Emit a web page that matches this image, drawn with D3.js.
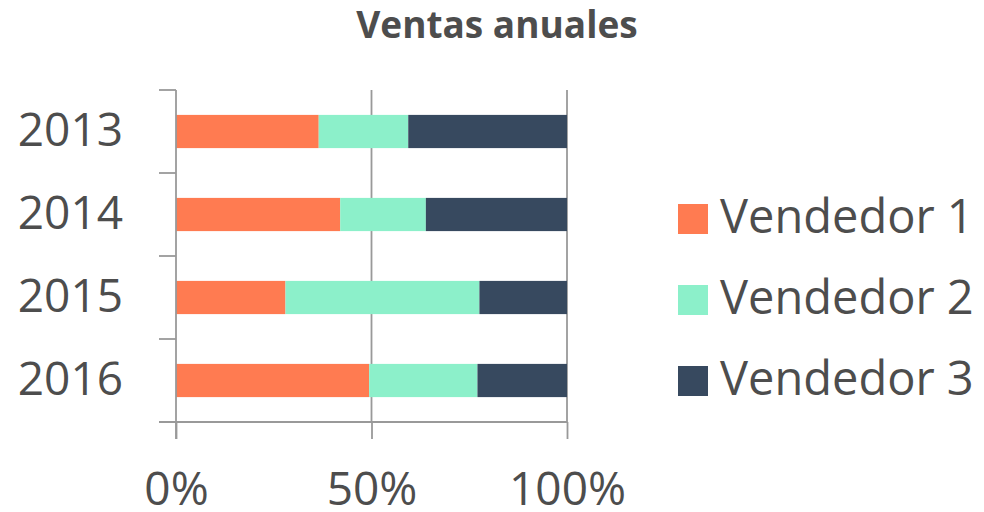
<!DOCTYPE html>
<html>
<head>
<meta charset="utf-8">
<script src="https://cdn.jsdelivr.net/npm/d3@7"></script>
<style>
  body { margin: 0; background: #fff; }
  text { font-family: "Open Sans", sans-serif; fill: #4d4d4d; }
</style>
</head>
<body>
<svg width="984" height="512"></svg>
<script>
// data (share of yearly sales, %)
const years = ["2013", "2014", "2015", "2016"];
const sellers = ["Vendedor 1", "Vendedor 2", "Vendedor 3"];
const vendedor1 = [36.5, 42.0, 28.0, 49.4];
const vendedor2 = [22.9, 21.9, 49.6, 27.7];
const vendedor3 = [40.6, 36.1, 22.4, 22.9];
const xTicks = [0, 0.5, 1];
const colors = ["#FF7B51", "#8CF0CA", "#37495F"];

const svg = d3.select("svg");
const width = +svg.attr("width");
const height = +svg.attr("height");

const margin = {top: 90, right: 417, bottom: 90, left: 176};
const gridColor = "#999999";
const tickLen = 17;

const rows = years.map((y, i) => ({
  year: y,
  "Vendedor 1": vendedor1[i],
  "Vendedor 2": vendedor2[i],
  "Vendedor 3": vendedor3[i]
}));

const stacked = d3.stack()
  .keys(sellers)
  .offset(d3.stackOffsetExpand)(rows);

const xScale = d3.scaleLinear()
  .domain([0, 1])
  .range([margin.left, width - margin.right]);

const yScale = d3.scaleBand()
  .domain(years)
  .range([margin.top, height - margin.bottom])
  .paddingInner(0.6)
  .paddingOuter(0.3);

const color = d3.scaleOrdinal().domain(sellers).range(colors);

const y0 = yScale.range()[0], y1 = yScale.range()[1];

// vertical gridlines (50%, 100%)
svg.append("g")
  .selectAll("line")
  .data(xTicks.slice(1))
  .join("line")
  .attr("x1", d => xScale(d))
  .attr("x2", d => xScale(d))
  .attr("y1", y0)
  .attr("y2", y1)
  .attr("stroke", gridColor)
  .attr("stroke-width", 1.8);

// bars
svg.append("g")
  .selectAll("g")
  .data(stacked)
  .join("g")
  .attr("fill", d => color(d.key))
  .selectAll("rect")
  .data(d => d)
  .join("rect")
  .attr("x", d => xScale(d[0]))
  .attr("width", d => xScale(d[1]) - xScale(d[0]))
  .attr("y", d => yScale(d.data.year))
  .attr("height", yScale.bandwidth());

// y axis: labels
const yAxisG = svg.append("g")
  .attr("transform", `translate(${margin.left},0)`)
  .call(d3.axisLeft(yScale).tickSize(0).tickPadding(53));
yAxisG.select(".domain").remove();
yAxisG.selectAll("text")
  .attr("font-size", 46)
  .attr("font-family", null)
  .attr("fill", null);

// y axis: line + category boundary ticks
const gap = (yScale.step() - yScale.bandwidth()) / 2;
const bounds = years.map(y => yScale(y) - gap).concat([y1]);
svg.append("line")
  .attr("x1", margin.left).attr("x2", margin.left)
  .attr("y1", y0).attr("y2", y1 + tickLen)
  .attr("stroke", gridColor).attr("stroke-width", 1.8);
svg.append("g")
  .selectAll("line")
  .data(bounds)
  .join("line")
  .attr("x1", margin.left - tickLen)
  .attr("x2", margin.left)
  .attr("y1", d => d)
  .attr("y2", d => d)
  .attr("stroke", gridColor)
  .attr("stroke-width", 1.8);

// x axis
const xAxisG = svg.append("g")
  .attr("transform", `translate(0,${y1})`)
  .call(d3.axisBottom(xScale)
    .tickValues(xTicks)
    .tickFormat(d3.format(".0%"))
    .tickSize(tickLen)
    .tickPadding(33));
xAxisG.select(".domain").remove();
xAxisG.selectAll("line").attr("stroke", gridColor).attr("stroke-width", 1.8);
xAxisG.selectAll("text")
  .attr("font-size", 46)
  .attr("font-family", null)
  .attr("fill", null);
svg.append("line")
  .attr("x1", margin.left - tickLen).attr("x2", xScale(1))
  .attr("y1", y1).attr("y2", y1)
  .attr("stroke", gridColor).attr("stroke-width", 1.8);

// title
svg.append("text")
  .attr("x", 497)
  .attr("y", 38)
  .attr("text-anchor", "middle")
  .attr("font-size", 37)
  .attr("font-weight", "bold")
  .text("Ventas anuales");

// legend
const legend = svg.append("g")
  .attr("transform", "translate(678,204)")
  .selectAll("g")
  .data(sellers)
  .join("g")
  .attr("transform", (d, i) => `translate(0,${i * 81})`);
legend.append("rect")
  .attr("width", 30)
  .attr("height", 30)
  .attr("fill", d => color(d));
legend.append("text")
  .attr("x", 42)
  .attr("y", 29)
  .attr("font-size", 47)
  .text(d => d);
</script>
</body>
</html>
